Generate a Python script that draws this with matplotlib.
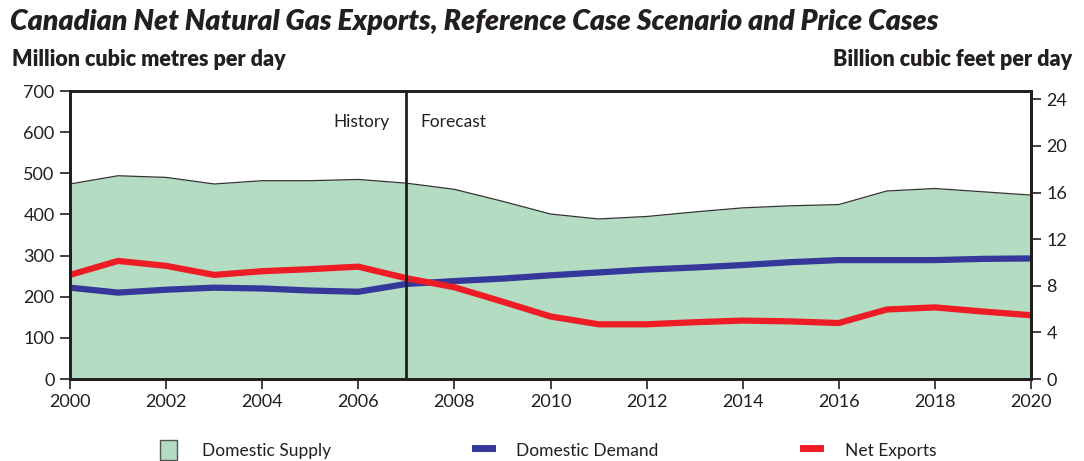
import matplotlib
matplotlib.use("Agg")
import matplotlib.pyplot as plt
from matplotlib.patches import Patch
from matplotlib.lines import Line2D

years = list(range(2000, 2021))
supply = [474, 494, 490, 474, 482, 482, 485, 476, 461, 432, 401, 389, 395, 406, 416, 421, 424, 457, 463, 455, 447]
demand = [222, 210, 217, 222, 220, 215, 212, 231, 238, 244, 252, 259, 266, 271, 277, 284, 289, 289, 289, 292, 293]
exports = [253, 287, 275, 253, 262, 267, 273, 245, 223, 188, 152, 133, 133, 138, 142, 140, 136, 169, 174, 164, 155]
left_ticks = [0, 100, 200, 300, 400, 500, 600, 700]
right_ticks = [0, 4, 8, 12, 16, 20, 24]
x_ticks = list(range(2000, 2021, 2))
m3_to_bcf = 0.0353147

fill_c = "#b4dcc2"
demand_c = "#35389a"
export_c = "#ee1c25"
txt_c = "#231f20"

plt.rcParams['font.family'] = ['Lato', 'DejaVu Sans']

fig = plt.figure(figsize=(10.84, 4.61), dpi=100)
ax = fig.add_axes([70/1084, 1-379/461, (1031-70)/1084, (379-91)/461])

ax.fill_between(years, 0, supply, color=fill_c, lw=0)
ax.plot(years, supply, color="#333333", lw=0.9)
ax.plot(years, demand, color=demand_c, lw=4.5, solid_capstyle="butt")
ax.plot(years, exports, color=export_c, lw=4.5, solid_capstyle="butt")
ax.axvline(2007, color=txt_c, lw=2)

ax.set_xlim(2000, 2020)
ax.set_ylim(0, 700)
ax.set_yticks(left_ticks)
ax.set_xticks(x_ticks)
for s in ax.spines.values():
    s.set_linewidth(2)
    s.set_color(txt_c)
ax.tick_params(axis='both', direction='out', length=7, width=1.2, colors=txt_c, labelsize=13, pad=4)

ax2 = ax.twinx()
ax2.set_ylim(0, 700*m3_to_bcf)
ax2.set_yticks(right_ticks)
ax2.tick_params(axis='y', direction='out', length=7, width=1.2, colors=txt_c, labelsize=13, pad=4)
for s in ax2.spines.values():
    s.set_linewidth(2)
    s.set_color(txt_c)

ax.text(2006.65, 625, "History", ha="right", va="center", fontsize=12.5, color=txt_c)
ax.text(2007.3, 625, "Forecast", ha="left", va="center", fontsize=12.5, color=txt_c)

fig.text(10/1084, 1-22/461, "Canadian Net Natural Gas Exports, Reference Case Scenario and Price Cases",
         fontsize=20.5, fontweight="heavy", fontstyle="italic", color=txt_c, va="center", ha="left")
fig.text(12/1084, 1-59/461, "Million cubic metres per day", fontsize=15.5, fontweight="heavy",
         color=txt_c, va="center", ha="left")
fig.text(1072/1084, 1-59/461, "Billion cubic feet per day", fontsize=15.5, fontweight="heavy",
         color=txt_c, va="center", ha="right")

handles = [Patch(facecolor=fill_c, edgecolor="#555555", lw=1),
           Line2D([0], [0], color=demand_c, lw=5),
           Line2D([0], [0], color=export_c, lw=5)]
labels = ["Domestic Supply", "Domestic Demand", "Net Exports"]
fig.legend(handles, labels, loc="center", bbox_to_anchor=(548/1084, 1-450/461), ncol=3,
           frameon=False, fontsize=12.5, handlelength=1.0, handleheight=1.4,
           columnspacing=8.3, handletextpad=1.4, labelcolor=txt_c)

fig.savefig("out.png", dpi=100)
